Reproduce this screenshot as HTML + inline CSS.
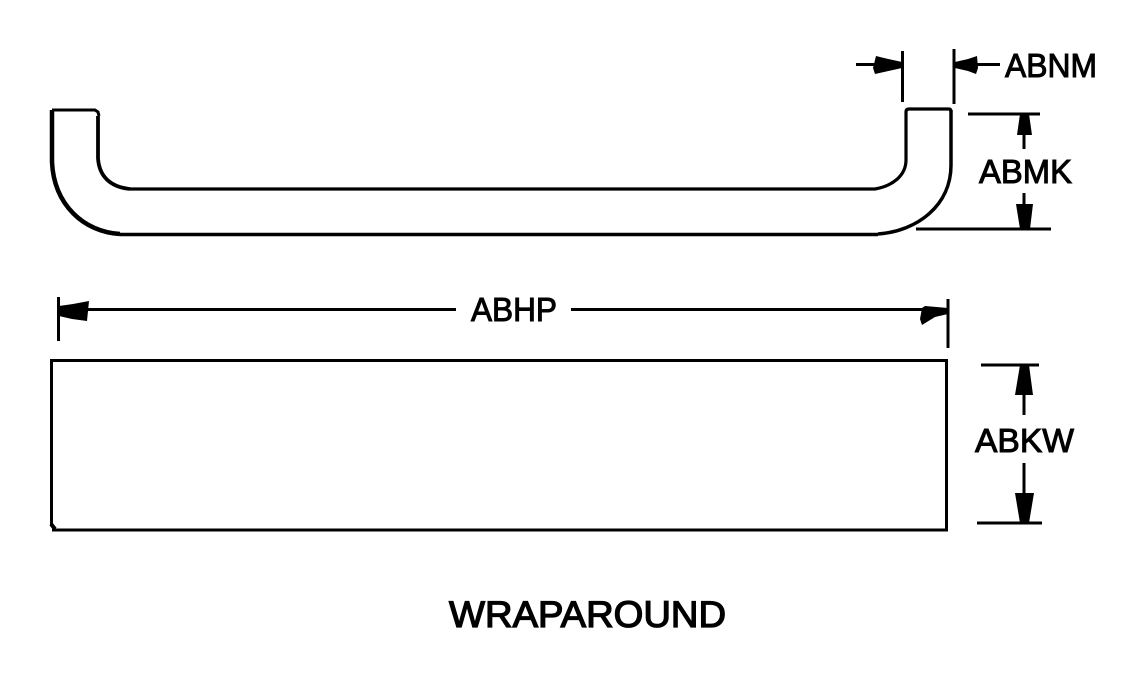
<!DOCTYPE html>
<html>
<head>
<meta charset="utf-8">
<title>Wraparound</title>
<style>
html,body{margin:0;padding:0;background:#fff;width:1140px;height:690px;overflow:hidden}
svg{display:block}
text{font-family:"Liberation Sans",Arial,sans-serif;fill:#000;stroke:#000;stroke-width:1;font-size:33px}
</style>
</head>
<body>
<svg width="1140" height="690" viewBox="0 0 1140 690" xmlns="http://www.w3.org/2000/svg">
<rect width="1140" height="690" fill="#fff"/>
<g fill="none" stroke="#000" stroke-width="3" shape-rendering="crispEdges">
  <!-- Rectangle -->
  <path d="M51.500 526V360.500H946.500V530H52"/>
  <!-- Extension lines -->
  <path d="M902.500 51V102M954 49V104M968 114H1040M916 229H1051M58.500 297V341M948 299V348M981 365H1039M977 523H1042"/>
  <!-- Dimension lines -->
  <path d="M856 64.500H876M975 64.500H1000M1024 134V149M1024 193V206M86 309.500H456M571 309.500H924M1024 392V415M1024 463V496"/>
</g>
<g fill="none" stroke="#000">
  <!-- U shape -->
  <path d="M52 110H95L98 112 99 116" stroke-width="3"/>
  <path d="M878 234.500H120M878 234C918 231 951 205 951 165V110" stroke-width="3.500"/>
  <path d="M52 110V162C54 205 84 232 120 234" stroke-width="4.500"/>
  <path d="M130 189H875C892 186 906 176 906 160V112Q906 109 909 109H949Q951 109 951 112" stroke-width="3.200"/>
  <path d="M98 116V158C99 176 110 187 130 189" stroke-width="3.800"/>
  <path d="M51 524L55 529" stroke-width="4"/>
</g>
<g fill="#000" stroke="none">
  <!-- ABNM arrows -->
  <polygon points="902,62 902,68 884,72 875,74 873,68 876,56 884,58"/>
  <polygon points="955,62 955,68 968,71 976,74 978,68 977,56 968,59"/>
  <!-- ABMK arrows -->
  <polygon points="1020,114 1029,114 1032,135 1017,135"/>
  <polygon points="1016,204 1033,204 1030,229 1020,229"/>
  <!-- ABHP arrows -->
  <polygon points="59,306 59,316 72,319 87,321 89,301 73,304"/>
  <polygon points="948,308 948,314 935,317 922,325 920,319 922,308 925,306"/>
  <!-- ABKW arrows -->
  <polygon points="1020,365 1029,365 1033,395 1015,395"/>
  <polygon points="1015,493 1034,493 1029,523 1020,523"/>
</g>
<text x="1005" y="77" textLength="92" lengthAdjust="spacingAndGlyphs">ABNM</text>
<text x="979" y="183" textLength="93" lengthAdjust="spacingAndGlyphs">ABMK</text>
<text x="471" y="321" textLength="86" lengthAdjust="spacingAndGlyphs">ABHP</text>
<text x="975" y="452" textLength="99" lengthAdjust="spacingAndGlyphs">ABKW</text>
<text x="449" y="627" textLength="277" lengthAdjust="spacingAndGlyphs" style="font-size:37px;stroke-width:1.300">WRAPAROUND</text>
</svg>
</body>
</html>
